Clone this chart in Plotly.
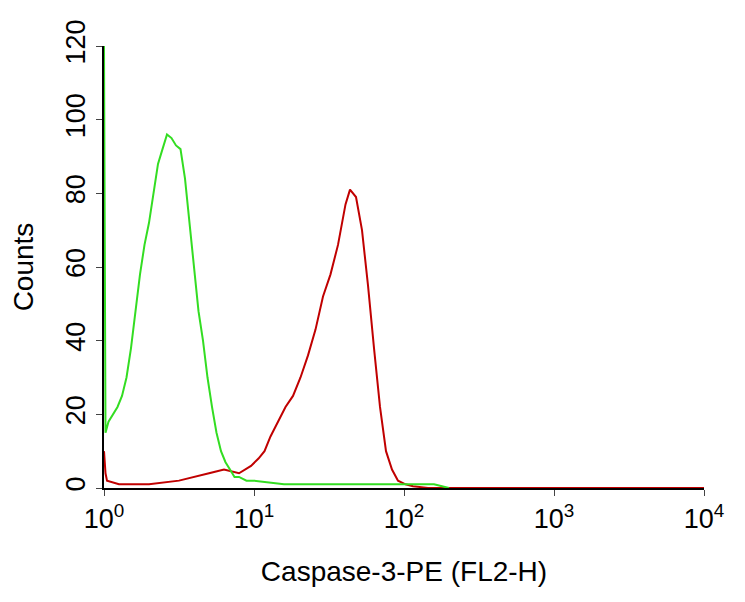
import plotly.graph_objects as go

green_logx = [0.0,0.005,0.01,0.03,0.06,0.09,0.12,0.15,0.18,0.21,0.24,0.27,0.30,0.33,0.36,0.39,0.42,0.45,0.48,0.51,0.54,0.57,0.60,0.63,0.66,0.69,0.72,0.75,0.78,0.81,0.84,0.87,0.90,0.95,1.0,1.1,1.2,1.4,1.6,1.8,2.0,2.1,2.2,2.3]
green_counts = [120,60,15,18,20,22,25,30,38,48,58,66,72,80,88,92,96,95,93,92,84,72,60,48,40,30,22,15,10,7,5,3,3,2,2,1.5,1,1,1,1,1,1,1,0]
red_logx = [0.0,0.01,0.02,0.1,0.3,0.5,0.7,0.8,0.9,0.98,1.03,1.07,1.11,1.16,1.21,1.26,1.31,1.36,1.41,1.46,1.51,1.56,1.61,1.64,1.68,1.72,1.76,1.8,1.84,1.88,1.92,1.96,2.01,2.06,2.16,3.0,4.0]
red_counts = [10,4,2,1,1,2,4,5,4,6,8,10,14,18,22,25,30,36,43,52,58,66,77,81,79,70,55,38,22,10,5,2,1,0.5,0,0,0]
y_ticks = [0,20,40,60,80,100,120]
x_ticks = [1,10,100,1000,10000]
x_labels = ["10<sup>0</sup>","10<sup>1</sup>","10<sup>2</sup>","10<sup>3</sup>","10<sup>4</sup>"]

fig = go.Figure()
fig.add_trace(go.Scatter(x=[10**v for v in red_logx], y=red_counts, mode="lines",
                         line=dict(color="#c00000", width=2)))
fig.add_trace(go.Scatter(x=[10**v for v in green_logx], y=green_counts, mode="lines",
                         line=dict(color="#33dd22", width=2)))
fig.update_layout(width=745, height=602, plot_bgcolor="white", paper_bgcolor="white",
                  showlegend=False, margin=dict(l=96, r=49, t=38, b=122),
                  font=dict(family="Liberation Sans, Arial", color="black"))
fig.update_xaxes(type="log", range=[0,4], tickvals=x_ticks, ticktext=x_labels,
                 showline=True, linecolor="black", linewidth=2, ticks="outside",
                 ticklen=6, showgrid=False, zeroline=False, tickfont=dict(size=27),
                 title=dict(text="Caspase-3-PE (FL2-H)", font=dict(size=28), standoff=28))
fig.update_yaxes(range=[0,120], tickvals=y_ticks, tickangle=-90,
                 showline=True, linecolor="black", linewidth=2, ticks="outside",
                 ticklen=6, showgrid=False, zeroline=False, tickfont=dict(size=27),
                 title=dict(text="Counts", font=dict(size=28), standoff=22))
fig.write_html("out.html")
